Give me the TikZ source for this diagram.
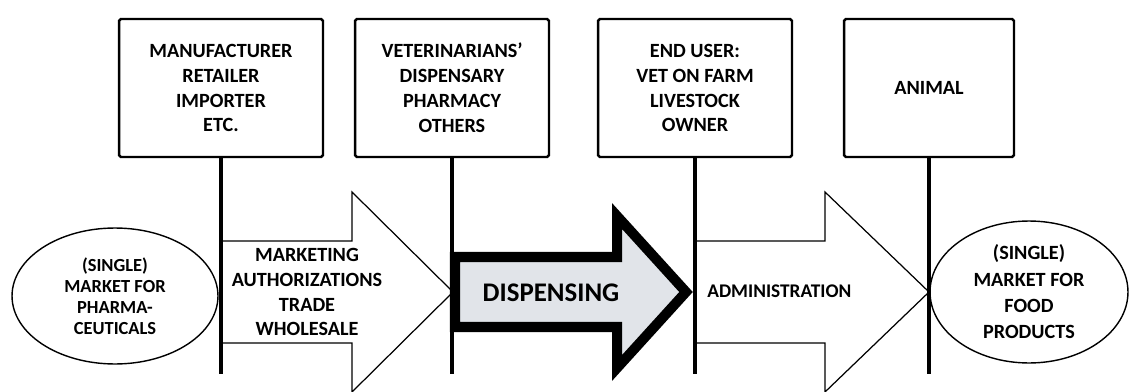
\documentclass[tikz,border=0pt]{standalone}
\usepackage{fontspec}
\setmainfont{Carlito}
\usepackage{tikz}
\usetikzlibrary{calc}
\usetikzlibrary{shapes}
\definecolor{dispgray}{RGB}{225,228,233}
\newcommand{\createarrow}[3]{\filldraw[white] (#1,241) -- (#2,241) -- (#2,192) -- (#3,292) -- (#2,392) -- (#2,343) -- (#1,343) -- cycle; \draw[line width=0.7pt] (#1,241) -- (#2,241) -- (#2,192) -- (#3,292) -- (#2,392) -- (#2,343) -- (#1,343);}

\begin{document}
\begin{tikzpicture}[x=0.02cm,y=-0.02cm,
    box/.style={draw,line width=1.4pt,rounded corners=1pt,minimum height=2.76cm,align=center,
        font=\bfseries\fontsize{11.5}{14.2}\selectfont},
    market/.style={ellipse,draw,line width=0.8pt,inner sep=0pt,align=center},
    stem/.style={line width=2pt}]
        \useasboundingbox (0,0) rectangle (1129,392);
        %flow arrows
        \createarrow{220}{352}{453}
        \createarrow{696}{825}{929}
        \filldraw[fill=dispgray,line join=miter,miter limit=10,line width=5.7pt]
            (455,257) -- (617,257) -- (617,216) -- (686,292) -- (617,368) -- (617,327) -- (455,327) -- cycle;

        %actors
        \node[box,minimum width=4.08cm] (maker) at (221,88) {MANUFACTURER\\RETAILER\\IMPORTER\\ETC.};
        \node[box,minimum width=3.88cm] (vets) at (452,88) {VETERINARIANS'\\DISPENSARY\\PHARMACY\\OTHERS};
        \node[box,minimum width=3.88cm] (enduser) at (695,88) {END USER:\\VET ON FARM\\LIVESTOCK\\OWNER};
        \node[box,minimum width=3.4cm] (animal) at (929,88) {ANIMAL};

        %markets
        \node[market,minimum width=4.12cm,minimum height=2.72cm,font=\bfseries\fontsize{10.5}{12}\selectfont] (pharma) at (115,296)
            {(SINGLE)\\MARKET FOR\\PHARMA-\\CEUTICALS};
        \node[market,minimum width=3.96cm,minimum height=2.84cm,font=\bfseries\fontsize{11.5}{15}\selectfont] (food) at (1029,292)
            {(SINGLE)\\MARKET FOR\\FOOD\\PRODUCTS};

        \foreach \b in {maker,vets,enduser,animal} {
        \path (\b.south) ++(0,216) coordinate (\b-foot);
        \draw[stem] (\b.south) -- (\b-foot);}

        %arrow texts
        \node[align=center,font=\bfseries\fontsize{11.5}{14.2}\selectfont] (trade) at (307,292)
            {MARKETING\\AUTHORIZATIONS\\TRADE\\WHOLESALE};
        \node[font=\bfseries\fontsize{15.3}{18}\selectfont] (disp) at (551,293) {DISPENSING};
        \node[anchor=west,inner sep=0pt,font=\bfseries\fontsize{11}{13}\selectfont] (admin) at (707,291) {ADMINISTRATION};
\end{tikzpicture}
\end{document}
